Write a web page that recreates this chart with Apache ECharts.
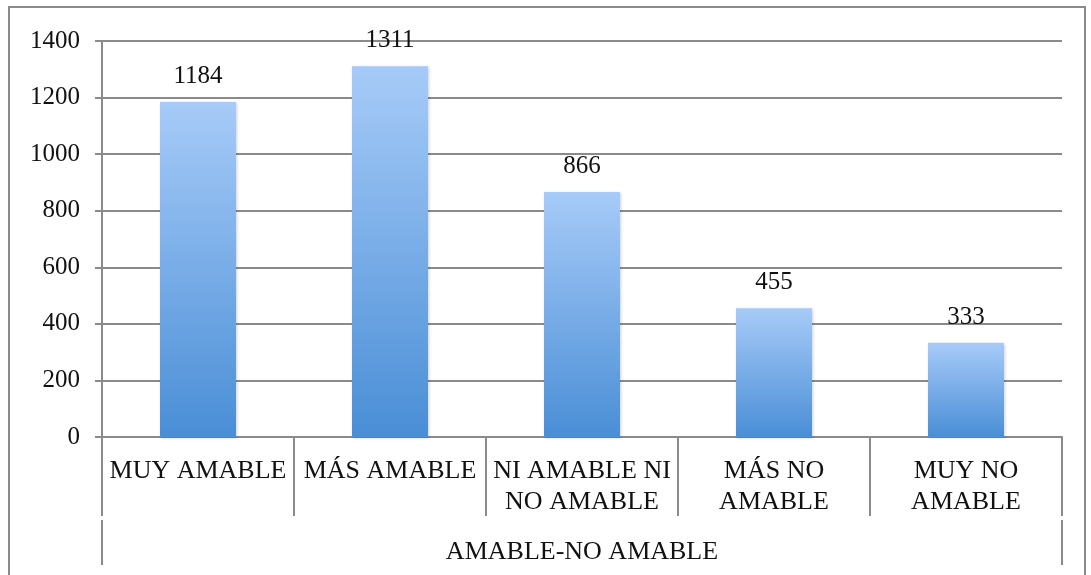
<!DOCTYPE html>
<html>
<head>
<meta charset="utf-8">
<script src="https://cdn.jsdelivr.net/npm/echarts@6/dist/echarts.min.js"></script>
<style>html,body{margin:0;padding:0;background:#fff}#c{width:1091px;height:575px}</style>
</head>
<body>
<div id="c"></div>
<script>
var categories = ["MUY AMABLE", "MÁS AMABLE", "NI AMABLE NI\nNO AMABLE", "MÁS NO\nAMABLE", "MUY NO\nAMABLE"];
var values = [1184, 1311, 866, 455, 333];
var groupLabel = ["AMABLE-NO AMABLE"];
var yTicks = { min: 0, max: 1400, interval: 200 };

var font = "'Liberation Serif', 'Times New Roman', serif";
var gridColor = "#8a8a8a";
var chart = echarts.init(document.getElementById('c'));
chart.setOption({
  animation: false,
  backgroundColor: '#fff',
  graphic: [{
    type: 'rect', shape: { x: 9, y: 7, width: 1076, height: 600 },
    style: { fill: 'none', stroke: '#8a8a8a', lineWidth: 2 }, silent: true, z: -1
  }],
  grid: { left: 102, right: 29, top: 41, bottom: 138 },
  xAxis: [{
    type: 'category', data: categories, position: 'bottom',
    axisLine: { show: true, lineStyle: { color: gridColor, width: 2 } },
    axisTick: { show: true, interval: 0, length: 79, lineStyle: { color: gridColor, width: 2 } },
    axisLabel: { interval: 0, margin: 19, color: '#111', fontFamily: font, fontSize: 26, lineHeight: 31 }
  }, {
    type: 'category', data: groupLabel, position: 'bottom', offset: 83,
    axisLine: { show: false },
    axisTick: { show: true, interval: 0, length: 45, lineStyle: { color: gridColor, width: 2 } },
    axisLabel: { interval: 0, margin: 19, color: '#111', fontFamily: font, fontSize: 26 }
  }],
  yAxis: {
    type: 'value', min: yTicks.min, max: yTicks.max, interval: yTicks.interval,
    axisLine: { show: true, lineStyle: { color: gridColor, width: 2 } },
    axisTick: { show: true, length: 7, lineStyle: { color: gridColor, width: 2 } },
    splitLine: { show: true, lineStyle: { color: gridColor, width: 2 } },
    axisLabel: { margin: 22, color: '#111', fontFamily: font, fontSize: 25, formatter: function (v) { return String(v); } }
  },
  series: [{
    type: 'bar', xAxisIndex: 0, data: values, barWidth: 76,
    itemStyle: {
      color: new echarts.graphic.LinearGradient(0, 0, 0, 1, [
        { offset: 0, color: '#a7cbf8' },
        { offset: 1, color: '#4a8ed6' }
      ]),
      shadowBlur: 3, shadowColor: 'rgba(0,0,0,0.18)', shadowOffsetX: 1, shadowOffsetY: 1
    },
    label: { show: true, position: 'top', distance: 13, color: '#111', fontFamily: font, fontSize: 25 }
  }]
});
</script>
</body>
</html>
